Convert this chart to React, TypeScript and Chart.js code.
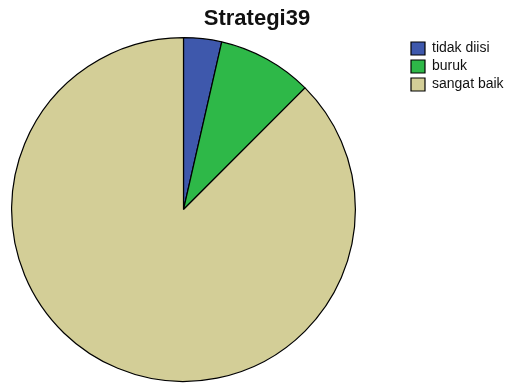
import React, { useEffect, useRef } from "react";
import { Chart, registerables } from "chart.js";

Chart.register(...registerables);

const TITLE = "Strategi39";
const categories = ["tidak diisi", "buruk", "sangat baik"];
const counts = [2, 5, 49];
const colors = ["#3E58AC", "#2EB848", "#D3CE97"];

const FONT = "'Liberation Sans', Arial, Helvetica, sans-serif";

const placePlugin = {
  id: "placeBoxes",
  afterLayout(chart: any) {
    chart.chartArea = {
      left: 10,
      top: 37,
      right: 357,
      bottom: 382,
      width: 347,
      height: 345,
    };
    const t = chart.titleBlock;
    if (t) {
      t.left = 0;
      t.right = 514;
      t.width = 514;
      t.top = 6;
      t.bottom = 36;
      t.height = 30;
    }
    const lg = chart.legend;
    if (lg) {
      lg.left = 407;
      lg.right = 509;
      lg.width = 102;
      lg.top = 37.5;
      lg.bottom = 383;
      lg.height = 345.5;
    }
  },
};

export default function App() {
  const ref = useRef<HTMLCanvasElement | null>(null);
  useEffect(() => {
    if (!ref.current) return;
    const chart = new Chart(ref.current, {
      type: "pie",
      data: {
        labels: categories,
        datasets: [
          {
            data: counts,
            backgroundColor: colors,
            borderColor: "#000",
            borderWidth: 1.2,
            clip: false,
          } as any,
        ],
      },
      options: {
        responsive: false,
        animation: false,
        events: [],
        layout: { padding: 0 },
        plugins: {
          title: {
            display: true,
            text: TITLE,
            color: "#111",
            font: { family: FONT, size: 22, weight: "bold", lineHeight: 1.2 },
            padding: 0,
          },
          legend: {
            display: true,
            position: "right",
            align: "start",
            labels: {
              boxWidth: 14,
              boxHeight: 13,
              padding: 4,
              color: "#111",
              font: { family: FONT, size: 14 },
            },
          },
          tooltip: { enabled: false },
        },
      },
      plugins: [placePlugin],
    });
    return () => chart.destroy();
  }, []);
  return (
    <div style={{ position: "fixed", left: 0, top: 0, width: 509, height: 383, background: "#fff" }}>
      <canvas ref={ref} width={509} height={383} style={{ display: "block" }} />
    </div>
  );
}
